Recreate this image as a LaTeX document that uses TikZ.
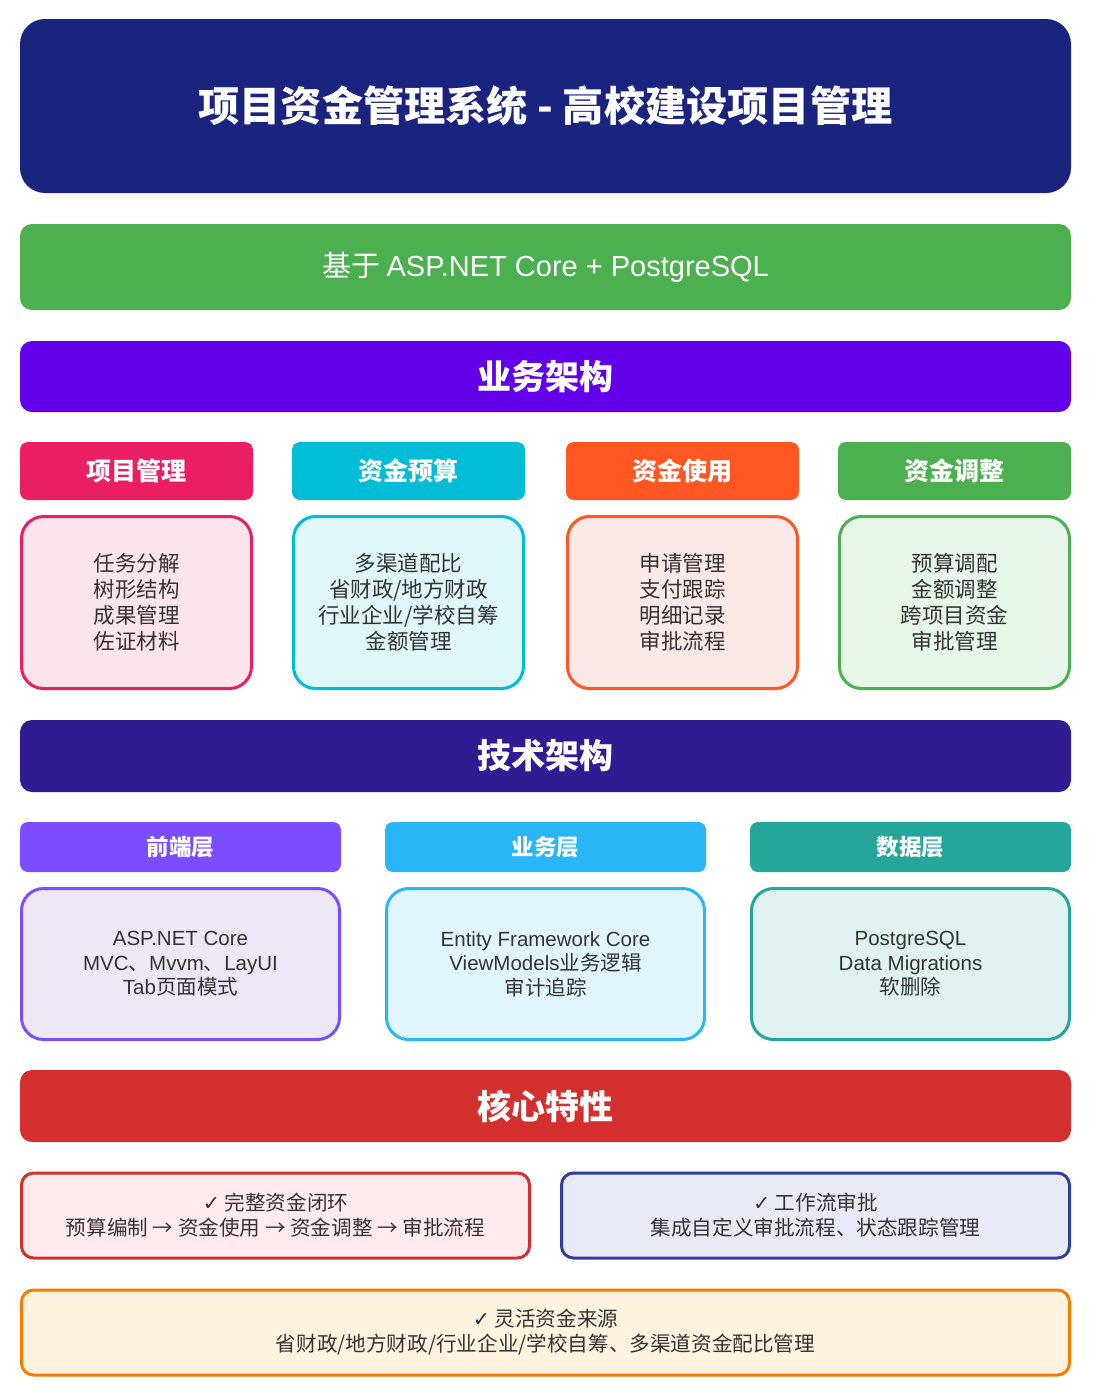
\documentclass[tikz,border=0pt]{standalone}
\usepackage{fontspec}
\setmainfont{Noto Sans CJK SC}
\newfontfamily\latfont{Liberation Sans}
\newfontfamily\symfont{DejaVu Sans}
\usetikzlibrary{positioning}
\definecolor{cnavy}{HTML}{1A237E}
\definecolor{cgreen}{HTML}{4CAF50}
\definecolor{cviolet}{HTML}{6200EA}
\definecolor{cindigo}{HTML}{311B92}
\definecolor{cred}{HTML}{D32F2F}
\definecolor{cpink}{HTML}{E91E63}
\definecolor{ccyan}{HTML}{00BCD4}
\definecolor{corange}{HTML}{FF5722}
\definecolor{cpurple}{HTML}{7C4DFF}
\definecolor{csky}{HTML}{29B6F6}
\definecolor{cteal}{HTML}{26A69A}
\definecolor{camber}{HTML}{F57C00}
\definecolor{cblue}{HTML}{303F9F}
\definecolor{lpink}{HTML}{FCE4EC}
\definecolor{lcyan}{HTML}{E0F7FA}
\definecolor{lorange}{HTML}{FBE9E7}
\definecolor{lgreen}{HTML}{E8F5E9}
\definecolor{lpurple}{HTML}{EDE7F6}
\definecolor{lsky}{HTML}{E1F5FE}
\definecolor{lteal}{HTML}{E0F2F1}
\definecolor{lred}{HTML}{FFEBEE}
\definecolor{lblue}{HTML}{E8EAF6}
\definecolor{lamber}{HTML}{FFF3E0}
\definecolor{ctext}{HTML}{333333}
\newcommand{\la}[1]{{\latfont #1}}
\newcommand{\ck}{{\symfont\bfseries ✓}}
\tikzset{
  every picture/.style={line width=3pt},
  bar/.style={fill=#1, text=white, rounded corners=12pt, minimum width=1051pt, inner sep=0pt, align=center},
  bar/.default=cnavy,
  hdr/.style={fill=#1, text=white, rounded corners=8pt, inner sep=0pt, font=\bfseries},
  card/.style 2 args={draw=#1, fill=#2, text=ctext, rounded corners=22pt, inner sep=0pt, align=center},
  note/.style 2 args={draw=#1, fill=#2, text=ctext, rounded corners=12pt, inner sep=0pt, align=center,
    minimum height=85pt, font=\fontsize{20.6}{25}\selectfont},
}

\begin{document}
\begin{tikzpicture}[x=1pt, y=-1pt,
  big/.style={font=\fontsize{34}{40}\selectfont\bfseries},
  biz/.style={hdr=#1, minimum width=233pt, minimum height=58pt, font=\fontsize{25}{30}\selectfont\bfseries},
  bizc/.style 2 args={card={#1}{#2}, minimum width=230pt, minimum height=172pt, font=\fontsize{21.5}{26}\selectfont},
  tech/.style={hdr=#1, minimum width=321pt, minimum height=50pt, font=\fontsize{22.5}{27}\selectfont\bfseries},
  techc/.style 2 args={card={#1}{#2}, minimum width=318pt, minimum height=151pt, font=\fontsize{20.5}{24.5}\selectfont}]
  \useasboundingbox (0,0) rectangle (1094,1400);
  \node[bar, rounded corners=25pt, minimum height=174pt, font=\fontsize{41.2}{48}\selectfont\bfseries] (title) at (545.5,106)
    {项目资金管理系统 - 高校建设项目管理};
  \node[bar=cgreen, minimum height=86pt, font=\fontsize{29}{34}\selectfont] (base) at (545.5,267)
    {基于 \la{ASP.NET Core + PostgreSQL}};
  \node[bar=cviolet, minimum height=71pt, big] (bizarch) at (545.5,376.5) {业务架构};
  % business modules
  \foreach \n/\x/\c/\l/\t/\b in {
      pm/136.5/cpink/lpink/项目管理/{任务分解\\树形结构\\成果管理\\佐证材料},
      bud/408.5/ccyan/lcyan/资金预算/{多渠道配比\\省财政/地方财政\\行业企业/学校自筹\\金额管理},
      use/682.5/corange/lorange/资金使用/{申请管理\\支付跟踪\\明细记录\\审批流程},
      adj/954.5/cgreen/lgreen/资金调整/{预算调配\\金额调整\\跨项目资金\\审批管理}} {
    \node[biz=\c] (\n) at (\x,471) {\t};
    \node[bizc={\c}{\l}] (\n-box) at (\x,602.5) {\b};
  }
  \node[bar=cindigo, minimum height=72pt, big] (techarch) at (545.5,756) {技术架构};
  % technical layers
  \foreach \n/\x/\c/\l/\t/\b in {
      front/180.5/cpurple/lpurple/前端层/{\la{ASP.NET Core}\\\la{MVC}、\la{Mvvm}、\la{LayUI}\\\la{Tab}页面模式},
      logic/545.5/csky/lsky/业务层/{\la{Entity Framework Core}\\\la{ViewModels}业务逻辑\\审计追踪},
      data/910.5/cteal/lteal/数据层/{\la{PostgreSQL}\\\la{Data Migrations}\\软删除}} {
    \node[tech=\c] (\n) at (\x,847) {\t};
    \node[techc={\c}{\l}] (\n-box) at (\x,964) {\b};
  }
  \node[bar=cred, minimum height=72pt, big] (core) at (545.5,1106) {核心特性};
  \node[note={cred}{lred}, minimum width=508pt] (loop) at (275.5,1215.5)
    {\ck\ 完整资金闭环\\预算编制 → 资金使用 → 资金调整 → 审批流程};
  \node[note={cblue}{lblue}, minimum width=508pt] (flow) at (815.5,1215.5)
    {\ck\ 工作流审批\\集成自定义审批流程、状态跟踪管理};
  \node[note={camber}{lamber}, minimum width=1048pt] (src) at (545.5,1332.5)
    {\ck\ 灵活资金来源\\省财政/地方财政/行业企业/学校自筹、多渠道资金配比管理};
\end{tikzpicture}
\end{document}
